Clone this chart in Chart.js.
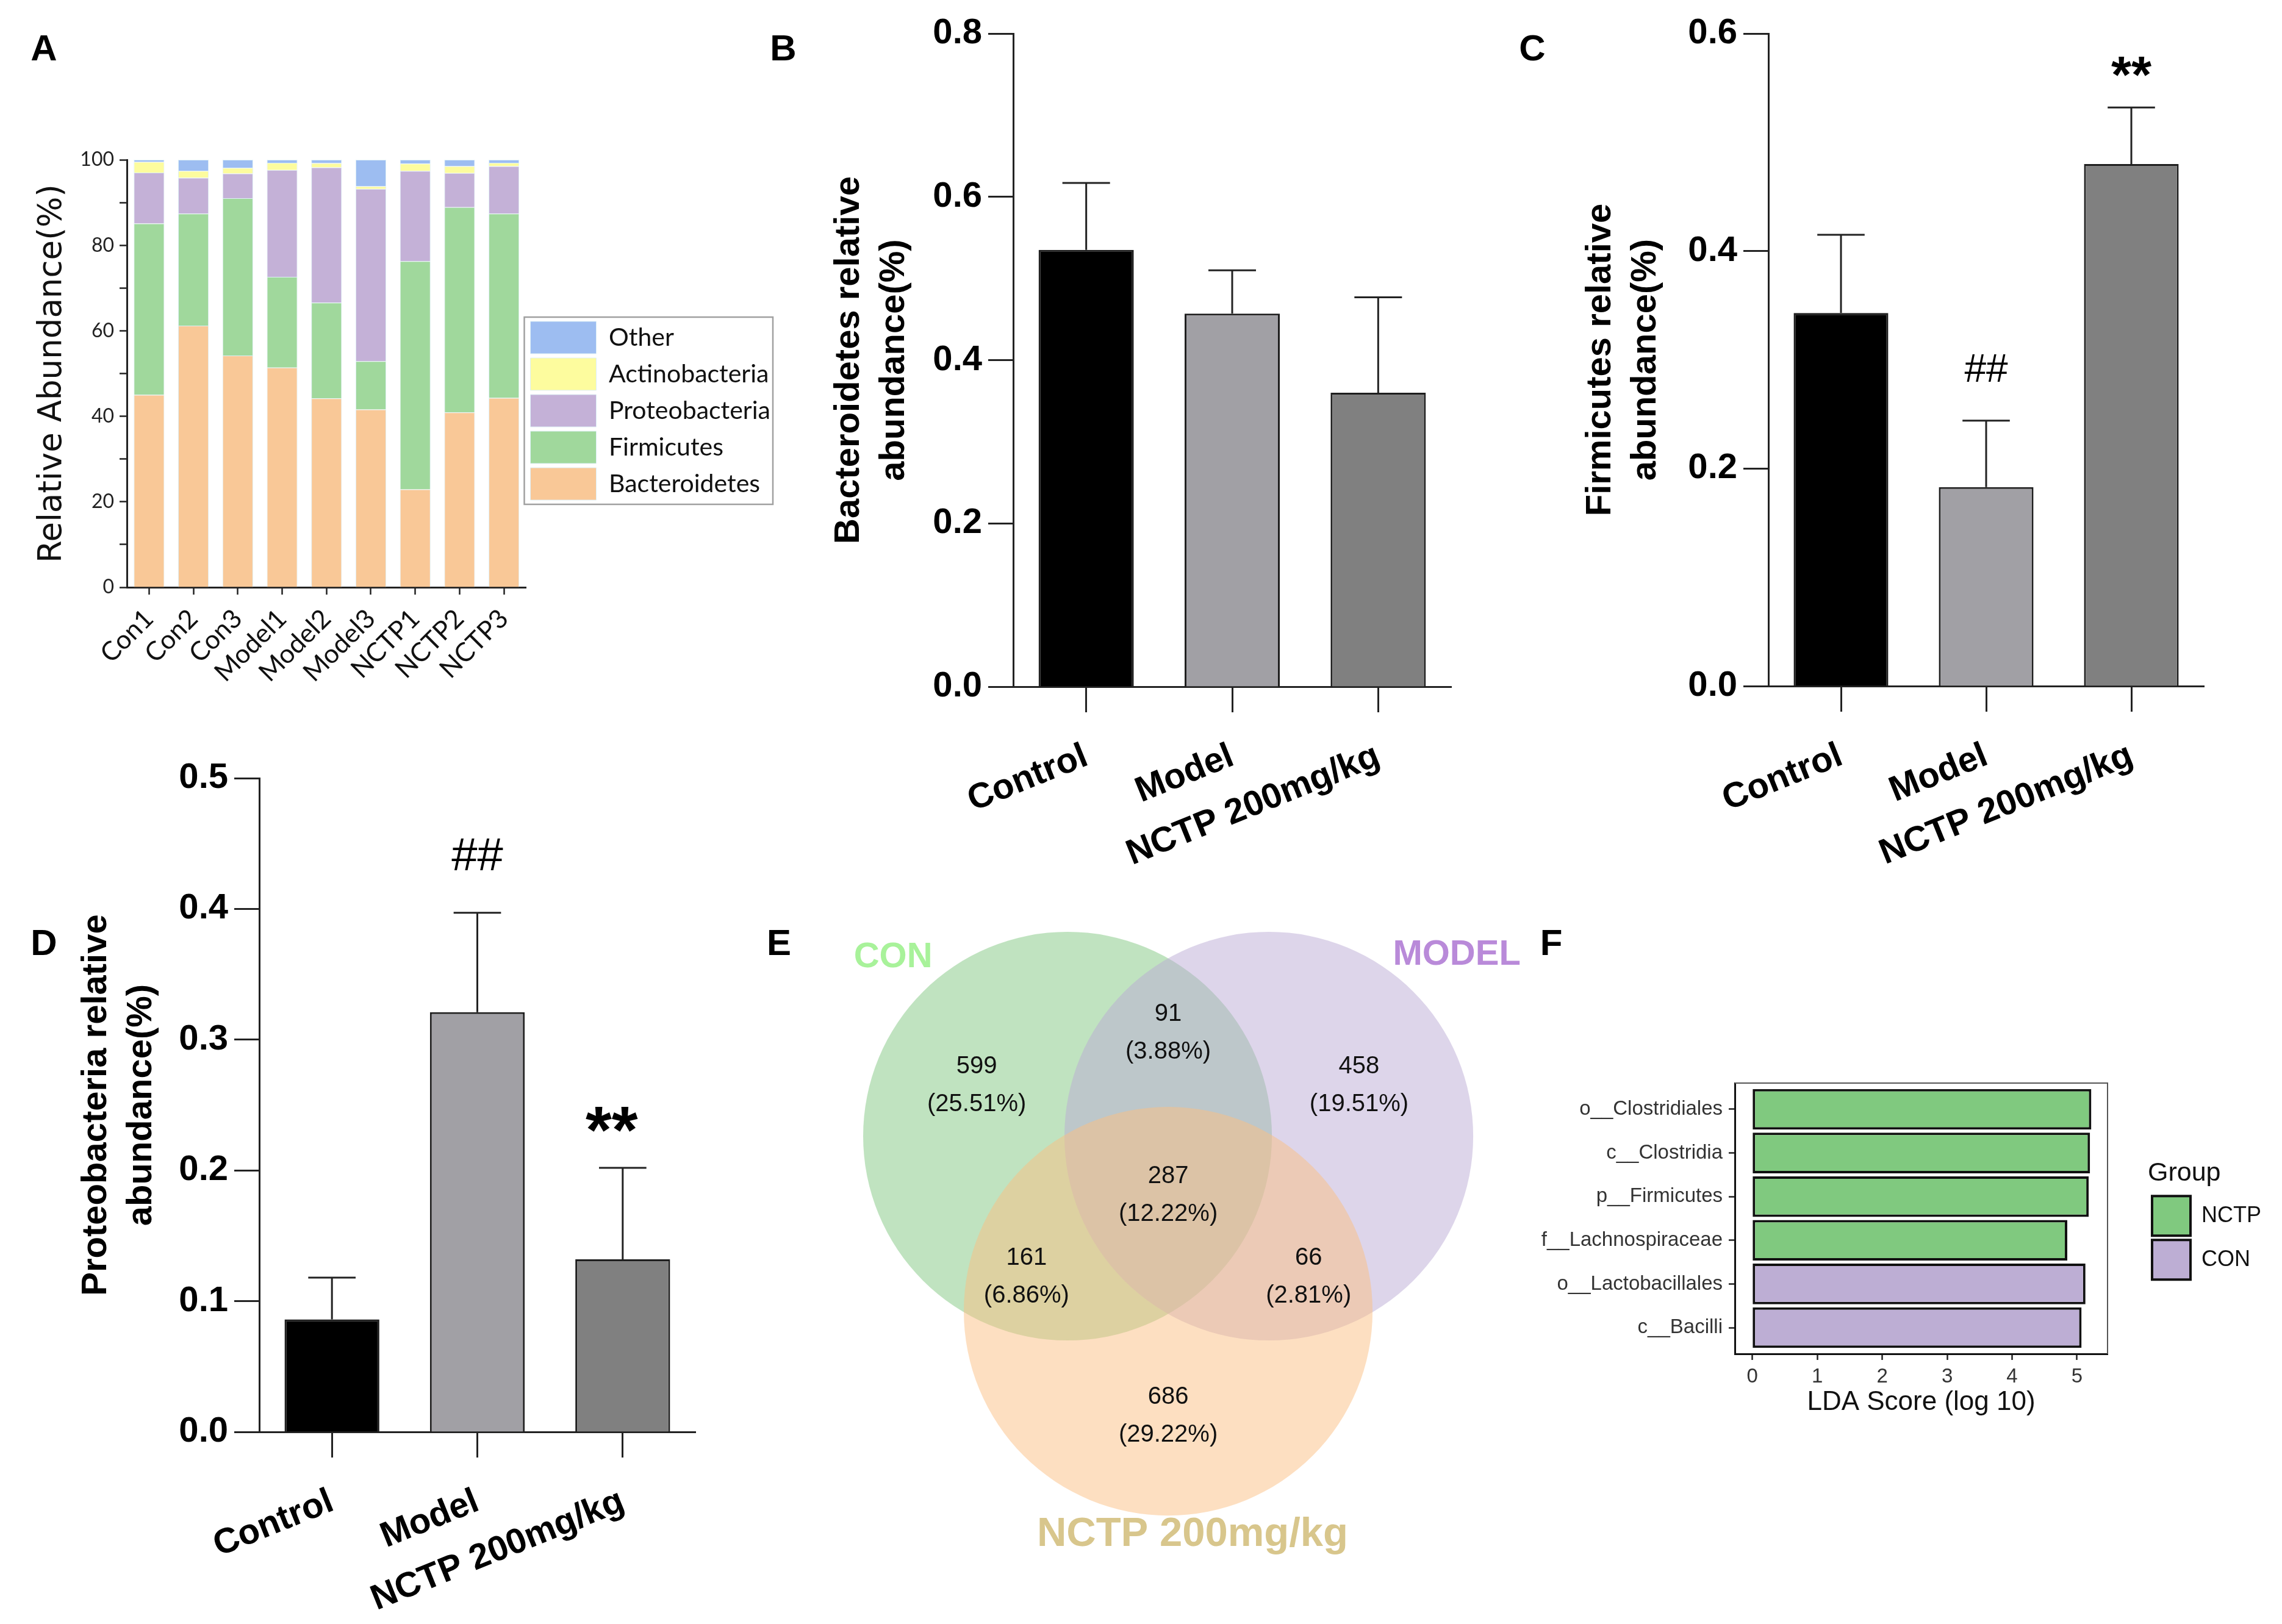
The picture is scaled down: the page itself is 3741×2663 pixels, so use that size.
<!DOCTYPE html>
<html><head><meta charset="utf-8">
<script src="https://cdn.jsdelivr.net/npm/chart.js@4.4.1/dist/chart.umd.min.js"></script>
<style>
html,body{margin:0;padding:0;background:#fff;width:3741px;height:2663px;overflow:hidden;position:relative;}
canvas{position:absolute;}
.lbl{position:absolute;font:bold 60px "Liberation Sans",Arial,sans-serif;color:#000;line-height:1;transform:translate(-50%,-50%);}
</style></head><body>
<div class="lbl" style="left:72px;top:79px">A</div>
<div class="lbl" style="left:1284px;top:79px">B</div>
<div class="lbl" style="left:2512px;top:79px">C</div>
<div class="lbl" style="left:72px;top:1546px">D</div>
<div class="lbl" style="left:1277px;top:1546px">E</div>
<div class="lbl" style="left:2543px;top:1546px">F</div>
<script>
// ---------------- DATA ----------------
const samples = ['Con1','Con2','Con3','Model1','Model2','Model3','NCTP1','NCTP2','NCTP3'];
const bacteroidetes  = [45.0, 61.2, 54.2, 51.4, 44.2, 41.6, 22.9, 40.9, 44.3];
const firmicutes     = [40.1, 26.2, 36.8, 21.2, 22.4, 11.3, 53.4, 48.0, 43.1];
const proteobacteria = [11.9,  8.4,  5.8, 25.0, 31.6, 40.3, 21.1,  8.0, 11.1];
const actinobacteria = [ 2.5,  1.6,  1.3,  1.7,  1.0,  0.6,  1.7,  1.6,  0.8];
const otherPhyla     = [ 0.5,  2.6,  1.9,  0.7,  0.8,  6.2,  0.9,  1.5,  0.7];
const abundanceTicks = [0, 20, 40, 60, 80, 100];

const groups = ['Control', 'Model', 'NCTP 200mg/kg'];
const bactMean = [0.535, 0.457, 0.360];
const bactSem  = [0.082, 0.053, 0.117];
const firmMean = [0.343, 0.183, 0.480];
const firmSem  = [0.072, 0.061, 0.052];
const protMean = [0.086, 0.321, 0.132];
const protSem  = [0.032, 0.076, 0.070];
const firmSig  = ['', '##', '**'];
const protSig  = ['', '##', '**'];

const vennSets   = ['CON', 'MODEL', 'NCTP 200mg/kg'];
// regions: CON only, CON∩MODEL, MODEL only, all three, CON∩NCTP, MODEL∩NCTP, NCTP only
const vennCounts = [599, 91, 458, 287, 161, 66, 686];

const ldaFeatures = ['o__Clostridiales','c__Clostridia','p__Firmicutes','f__Lachnospiraceae','o__Lactobacillales','c__Bacilli'];
const ldaScores   = [5.22, 5.20, 5.18, 4.85, 5.13, 5.07];
const ldaGroup    = ['NCTP','NCTP','NCTP','NCTP','CON','CON'];
const ldaTicks    = [0, 1, 2, 3, 4, 5];

// ---------------- SETUP ----------------
const FONT = '"Liberation Sans", Arial, Helvetica, sans-serif';
Chart.defaults.font.family = FONT;
Chart.defaults.color = '#000';
Chart.defaults.animation = false;
Chart.defaults.responsive = false;
Chart.defaults.devicePixelRatio = 1;
Chart.defaults.events = [];
Chart.defaults.plugins.tooltip.enabled = false;

function mkCanvas(id, l, t, w, h) {
  const c = document.createElement('canvas');
  c.id = id; c.width = Math.round(w); c.height = Math.round(h);
  Object.assign(c.style, {left: l + 'px', top: t + 'px', width: Math.round(w) + 'px', height: Math.round(h) + 'px'});
  document.body.appendChild(c);
  return c;
}
const mctx = document.createElement('canvas').getContext('2d');
function textW(font, arr) { mctx.font = font; return Math.max(...arr.map(s => mctx.measureText(s).width)); }

// ---------------- PANEL A ----------------
const legendFrame = {
  id: 'legendFrame',
  afterDraw(chart) {
    const lg = chart.legend;
    if (!lg || !lg.columnSizes || !lg.columnSizes.length) return;
    const pad = 7;
    const colH = lg.columnSizes[0].height;
    const y0 = (lg.top + pad + lg.bottom - colH) / 2;
    const ctx = chart.ctx;
    ctx.save();
    ctx.strokeStyle = '#a0a0a0'; ctx.lineWidth = 2.5;
    ctx.strokeRect(lg.left - 3, y0 - 7, lg.width - 3, colH + 7);
    ctx.restore();
  }
};
(function () {
  const legText = textW('41px Lato', ['Bacteroidetes','Firmicutes','Proteobacteria','Actinobacteria','Other']);
  const legendW = Math.ceil(7 + 108 + 20.5 + legText + 10);
  const top = 210, h = 927, areaR = 862;
  const c = mkCanvas('cA', 0, top, areaR + legendW, h);
  const seg = 'rgba(222,240,246,1)';
  const mk = (label, data, color) => ({label, data, backgroundColor: color, borderColor: seg, borderWidth: 1, categoryPercentage: 1, barPercentage: 0.69});
  new Chart(c, {
    type: 'bar',
    data: {labels: samples, datasets: [
      mk('Bacteroidetes', bacteroidetes, '#F9C897'),
      mk('Firmicutes', firmicutes, '#A0D89C'),
      mk('Proteobacteria', proteobacteria, '#C4B1D7'),
      mk('Actinobacteria', actinobacteria, '#FDFC9E'),
      mk('Other', otherPhyla, '#9DBDF1')
    ]},
    options: {
      layout: {padding: {top: 0, left: 0, right: 0, bottom: 0}},
      plugins: {
        legend: {position: 'right', align: 'center', reverse: true, maxWidth: legendW,
          labels: {boxWidth: 108, boxHeight: 53, padding: 7, color: '#111', font: {family: 'Lato', size: 41}}}
      },
      scales: {
        x: {stacked: true,
          ticks: {font: {family: 'Lato', size: 43}, color: '#111', minRotation: 45, maxRotation: 45, padding: 14, autoSkip: false},
          grid: {offset: false, drawOnChartArea: false, tickLength: 12, tickWidth: 2.5, tickColor: '#222'},
          border: {display: true, width: 3, color: '#222'},
          afterFit: s => { s.height = 174; }
        },
        xTop: {type: 'linear', position: 'top', display: true, min: 0, max: 1,
          grid: {display: false}, ticks: {display: false}, border: {display: false},
          afterFit: s => { s.height = 52; }
        },
        y: {stacked: true, min: 0, max: 100,
          ticks: {stepSize: 10, font: {family: 'Lato', size: 32}, color: '#222', padding: 9,
            callback: v => abundanceTicks.includes(v) ? String(v) : ''},
          grid: {drawOnChartArea: false, tickLength: 12, tickWidth: 2.5, tickColor: '#222'},
          border: {display: true, width: 3, color: '#222'},
          title: {display: true, text: 'Relative Abundance(%)', color: '#111',
            font: {family: '"DejaVu Sans", Verdana, sans-serif', size: 53, lineHeight: 1.2}, padding: {top: 54, bottom: 0}},
          afterFit: s => { s.width = 208; }
        }
      }
    },
    plugins: [legendFrame]
  });
})();

// ---------------- PANELS B, C, D ----------------
const errPlugin = {
  id: 'errBars',
  afterDatasetsDraw(chart, args, opts) {
    if (!opts.sems) return;
    const ctx = chart.ctx, meta = chart.getDatasetMeta(0), ys = chart.scales.y;
    const vals = chart.data.datasets[0].data;
    ctx.save();
    ctx.strokeStyle = '#222'; ctx.lineWidth = 3; ctx.lineCap = 'butt';
    meta.data.forEach((bar, i) => {
      const topPx = ys.getPixelForValue(vals[i] + opts.sems[i]);
      const half = bar.width / 4;
      ctx.beginPath();
      ctx.moveTo(bar.x, bar.y); ctx.lineTo(bar.x, topPx);
      ctx.moveTo(bar.x - half, topPx); ctx.lineTo(bar.x + half, topPx);
      ctx.stroke();
      const s = opts.sig && opts.sig[i];
      if (s) {
        const st = opts.sigStyle[s];
        ctx.fillStyle = '#000'; ctx.font = st.font; ctx.textAlign = 'center'; ctx.textBaseline = 'alphabetic';
        ctx.fillText(s, bar.x + (st.dx || 0), topPx - st.off);
      }
    });
    ctx.restore();
  }
};
const groupColors = ['#000000', '#A1A0A5', '#808080'];
function groupBarChart(cfg) {
  const c = mkCanvas(cfg.id, cfg.l, cfg.t, cfg.w, cfg.h);
  const yW = cfg.areaL - cfg.l, xH = cfg.t + cfg.h - cfg.areaB;
  const bold58 = {family: FONT, weight: 'bold', size: 58};
  return new Chart(c, {
    type: 'bar',
    data: {labels: groups, datasets: [{data: cfg.means, backgroundColor: groupColors, borderColor: '#1e1e1e',
      borderWidth: 3, categoryPercentage: 1, barPercentage: 0.652}]},
    options: {
      layout: {padding: {top: cfg.areaT - cfg.t, right: cfg.l + cfg.w - cfg.areaR, left: 0, bottom: 0}},
      plugins: {legend: {display: false}, errBars: {sems: cfg.sems, sig: cfg.sig, sigStyle: cfg.sigStyle || {}}},
      scales: {
        x: {
          ticks: {font: bold58, color: '#000', minRotation: 22, maxRotation: 22, padding: 38, autoSkip: false},
          grid: {offset: false, drawOnChartArea: false, tickLength: 42, tickWidth: 3, tickColor: '#222'},
          border: {display: true, width: 3, color: '#222'},
          afterFit: s => { s.height = xH; }
        },
        y: {min: 0, max: cfg.yMax,
          ticks: {stepSize: cfg.step, font: bold58, color: '#000', padding: 10, callback: v => Number(v).toFixed(1)},
          grid: {drawOnChartArea: false, tickLength: 41, tickWidth: 3, tickColor: '#222'},
          border: {display: true, width: 3, color: '#222'},
          title: {display: true, text: cfg.title, color: '#000',
            font: {family: FONT, weight: 'bold', size: 58, lineHeight: 74 / 58}, padding: {top: cfg.titlePad, bottom: 0}},
          afterFit: s => { s.width = yW; }
        }
      }
    },
    plugins: [errPlugin]
  });
}
groupBarChart({id: 'cB', l: 1300, t: 0, w: 1150, h: 1450, areaL: 1661, areaR: 2379, areaT: 55, areaB: 1126,
  yMax: 0.8, step: 0.2, means: bactMean, sems: bactSem, title: ['Bacteroidetes relative', 'abundance(%)'], titlePad: 55});
groupBarChart({id: 'cC', l: 2450, t: 0, w: 1291, h: 1450, areaL: 2899, areaR: 3613, areaT: 55, areaB: 1125,
  yMax: 0.6, step: 0.2, means: firmMean, sems: firmSem, sig: firmSig,
  sigStyle: {'##': {font: '64px ' + FONT, off: 64}, '**': {font: 'bold 85px ' + FONT, off: 24}},
  title: ['Firmicutes relative', 'abundance(%)'], titlePad: 137});
groupBarChart({id: 'cD', l: 0, t: 1200, w: 1250, h: 1463, areaL: 425, areaR: 1140, areaT: 1276, areaB: 2348,
  yMax: 0.5, step: 0.1, means: protMean, sems: protSem, sig: protSig,
  sigStyle: {'##': {font: '76px ' + FONT, off: 70}, '**': {font: 'bold 110px ' + FONT, off: 25, dx: -18}},
  title: ['Proteobacteria relative', 'abundance(%)'], titlePad: 121});

// ---------------- PANEL E (Venn) ----------------
const vennLayout = {
  centers: [[-0.4925, 0], [0.4925, 0], [0, -0.857]],
  radius: 1,
  fill: ['rgba(129,199,129,0.5)', 'rgba(187,171,213,0.5)', 'rgba(251,191,131,0.5)'],
  setLabelPos: [[-1.346, 0.875], [1.412, 0.887], [0.119, -1.952]],
  setLabelColor: ['#A8F29A', '#B98AD9', '#D8C68C'],
  setLabelSize: [58, 58, 67],
  regionPos: [[-0.937, 0.248], [0, 0.504], [0.934, 0.248], [0, -0.290], [-0.693, -0.690], [0.687, -0.690], [0, -1.370]]
};
const vennText = {
  id: 'vennText',
  afterDatasetsDraw(chart) {
    const ctx = chart.ctx, xs = chart.scales.x, ys = chart.scales.y;
    const total = vennCounts.reduce((a, b) => a + b, 0);
    ctx.save();
    ctx.textAlign = 'center'; ctx.textBaseline = 'middle';
    ctx.fillStyle = '#111'; ctx.font = '40px ' + FONT;
    vennCounts.forEach((n, i) => {
      const [vx, vy] = vennLayout.regionPos[i];
      const px = xs.getPixelForValue(vx), py = ys.getPixelForValue(vy);
      ctx.fillText(String(n), px, py - 31);
      ctx.fillText('(' + (n / total * 100).toFixed(2) + '%)', px, py + 31);
    });
    vennSets.forEach((s, i) => {
      const [vx, vy] = vennLayout.setLabelPos[i];
      ctx.fillStyle = vennLayout.setLabelColor[i];
      ctx.font = 'bold ' + vennLayout.setLabelSize[i] + 'px ' + FONT;
      ctx.fillText(s, xs.getPixelForValue(vx), ys.getPixelForValue(vy));
    });
    ctx.restore();
  }
};
(function () {
  const c = mkCanvas('cE', 1250, 1450, 1310, 1213);
  const chE = new Chart(c, {
    type: 'bubble',
    data: {datasets: [{
      data: vennLayout.centers.map(p => ({x: p[0], y: p[1], r: 1})),
      backgroundColor: vennLayout.fill, borderWidth: 0, clip: false
    }]},
    options: {
      layout: {padding: 0, autoPadding: false},
      plugins: {legend: {display: false}},
      scales: {x: {display: false, min: -1.985, max: 1.925}, y: {display: false, min: -2.388, max: 1.233}}
    },
    plugins: [vennText]
  });
  const xs = chE.scales.x;
  const rPx = Math.abs(xs.getPixelForValue(vennLayout.radius) - xs.getPixelForValue(0));
  chE.data.datasets[0].data.forEach(d => { d.r = rPx; });
  chE.update();
})();

// ---------------- PANEL F (LDA) ----------------
const frameTR = {
  id: 'frameTR',
  beforeDatasetsDraw(chart) {
    const a = chart.chartArea, ctx = chart.ctx;
    ctx.save(); ctx.strokeStyle = '#555'; ctx.lineWidth = 2;
    ctx.beginPath(); ctx.moveTo(a.left, a.top); ctx.lineTo(a.right, a.top); ctx.lineTo(a.right, a.bottom); ctx.stroke();
    ctx.restore();
  }
};
(function () {
  const l = 2500, t = 1650, w = 1241, h = 750;
  const areaL = 2844, areaR = 3455, areaT = 1776, areaB = 2220, gap = 66;
  const itemText = textW('36px ' + FONT, ['NCTP', 'CON']);
  const legendW = Math.ceil(7 + 63 + 18 + itemText + 10);
  const padRight = Math.max(0, w - (areaR - l) - gap - legendW);
  const c = mkCanvas('cF', l, t, w, h);
  const ds = (g, color) => ({
    label: g,
    data: ldaFeatures.map((f, i) => ldaGroup[i] === g ? {x: ldaScores[i], y: i} : null).filter(Boolean),
    backgroundColor: color, borderColor: '#111', borderWidth: 4, borderSkipped: false,
    grouped: false, categoryPercentage: 1, barPercentage: 0.93
  });
  const f33 = {family: FONT, size: 33};
  new Chart(c, {
    type: 'bar',
    data: {datasets: [ds('NCTP', '#80C97F'), ds('CON', '#BDAED4')]},
    options: {
      indexAxis: 'y',
      layout: {padding: {top: areaT - t, right: padRight, left: 0, bottom: 0}},
      plugins: {
        legend: {position: 'right', align: 'center', fullSize: false, maxWidth: legendW,
          title: {display: true, text: 'Group', color: '#111', position: 'start', font: {family: FONT, size: 43}, padding: {top: 12, bottom: 0}},
          labels: {boxWidth: 63, boxHeight: 65, padding: 7, color: '#111', font: {family: FONT, size: 36}}}
      },
      scales: {
        x: {type: 'linear', min: -0.27, max: 5.47, bounds: 'data', offset: false,
          afterBuildTicks: s => { s.ticks = ldaTicks.map(v => ({value: v})); },
          ticks: {font: f33, color: '#333', padding: 8},
          grid: {drawOnChartArea: false, offset: false, tickLength: 10, tickWidth: 2.5, tickColor: '#222'},
          border: {display: true, width: 3, color: '#111'},
          title: {display: true, text: 'LDA Score (log 10)', color: '#111', font: {family: FONT, size: 44, lineHeight: 1.2}, padding: {top: 0, bottom: 74}},
          afterFit: s => { s.height = (t + h) - areaB; }
        },
        y: {type: 'linear', min: -0.6, max: 5.6, reverse: true, bounds: 'data', offset: false,
          afterBuildTicks: s => { s.ticks = ldaFeatures.map((f, i) => ({value: i})); },
          ticks: {font: f33, color: '#333', padding: 10, callback: v => ldaFeatures[v] || ''},
          grid: {drawOnChartArea: false, offset: false, tickLength: 10, tickWidth: 2.5, tickColor: '#222'},
          border: {display: true, width: 3, color: '#111'},
          afterFit: s => { s.width = areaL - l; }
        },
        gap: {type: 'linear', position: 'right', axis: 'y', display: true, min: 0, max: 1,
          grid: {display: false}, ticks: {display: false}, border: {display: false},
          afterFit: s => { s.width = gap; }
        }
      }
    },
    plugins: [frameTR]
  });
})();
</script>
</body></html>
